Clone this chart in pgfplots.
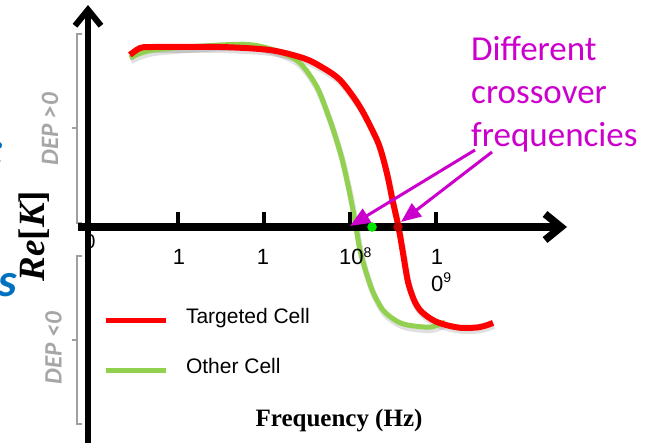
\documentclass[border=0pt]{standalone}
\usepackage{pgfplots}
\pgfplotsset{compat=1.18}
\usepackage{pgfplotstable}
\usetikzlibrary{arrows.meta}
\usepackage{fontspec}
\setmainfont{Liberation Sans}
\newfontfamily\serifb{Liberation Serif}
\newfontfamily\calib{Carlito}
\definecolor{cred}{RGB}{255,0,0}
\definecolor{cgreen}{RGB}{146,208,80}
\definecolor{cmag}{RGB}{204,0,204}
\definecolor{cgray}{RGB}{160,160,160}
\definecolor{cdep}{RGB}{166,166,166}
\definecolor{cblue}{RGB}{0,112,192}
\definecolor{dotred}{RGB}{192,0,0}
\definecolor{dotgreen}{RGB}{0,230,0}
\pgfmathdeclarefunction{PX}{1}{\pgfmathparse{7.5+(#1-306.75)/85.9}}
\pgfmathdeclarefunction{PY}{1}{\pgfmathparse{(227-#1)/180}}

% x = log10(frequency / Hz), y = Re[K]
\pgfplotstableread{
x y
5.442 0.939
5.710 0.983
6.490 1.011
6.874 1.011
7.189 0.972
7.421 0.911
7.619 0.778
7.770 0.594
7.864 0.456
7.922 0.356
7.992 0.206
8.038 0.094
8.073 0.000
8.120 -0.128
8.190 -0.250
8.271 -0.361
8.387 -0.461
8.527 -0.517
8.667 -0.544
8.935 -0.556
9.110 -0.528
}\greendata
\pgfplotstableread{
x y
5.442 0.956
5.559 0.994
5.710 1.000
6.490 1.000
7.072 0.983
7.456 0.939
7.654 0.894
7.887 0.817
8.120 0.667
8.318 0.483
8.388 0.383
8.446 0.272
8.498 0.150
8.568 0.000
8.620 -0.144
8.679 -0.306
8.749 -0.406
8.818 -0.461
8.912 -0.500
9.016 -0.528
9.168 -0.550
9.319 -0.561
9.517 -0.556
9.669 -0.533
}\reddata

\begin{document}
\begin{tikzpicture}
\path[use as bounding box, clip] (0,0) rectangle (656bp,443bp);
\begin{axis}[
  at={(0,0)}, anchor=south west,
  scale only axis, width=656bp, height=443bp,
  xmin=3.92899, xmax=11.56577, ymin=-1.2, ymax=1.261111,
  hide axis, clip=false,
  reverse legend,
  legend cell align=left,
  legend image code/.code={\draw[#1, line width=5bp] (0bp,-2bp) -- (60bp,-2bp);},
  legend style={at={(rel axis cs:0.15701,0.3047)}, anchor=north west,
    draw=none, fill=none, inner sep=0pt, outer sep=0pt,
    font=\fontsize{21bp}{25bp}\selectfont, row sep=30bp,
    nodes={inner sep=0pt, text height=15bp, text depth=5bp},
    /tikz/every odd column/.append style={column sep=18bp}},
]
% shadows
\addplot[forget plot, draw=black, opacity=0.12, line width=6bp, smooth, xshift=1bp, yshift=-3bp] table {\greendata};
\addplot[forget plot, draw=black, opacity=0.12, line width=6bp, smooth, xshift=1bp, yshift=-3bp] table {\reddata};
% curves
\addplot[cgreen, line width=5bp, smooth] table {\greendata};
\addlegendentry{Other Cell}
\addplot[cred, line width=6bp, smooth] table {\reddata};
\addlegendentry{Targeted Cell}

% braces
\draw[cgray, line width=2bp] (axis cs:{PX(82)},{PY(34)}) -- (axis cs:{PX(77)},{PY(34)}) -- (axis cs:{PX(77)},{PY(223)}) -- (axis cs:{PX(82)},{PY(223)});
\draw[cgray, line width=2bp] (axis cs:{PX(77)},{PY(128)}) -- (axis cs:{PX(72)},{PY(128)});
\draw[cgray, line width=2bp] (axis cs:{PX(82)},{PY(256)}) -- (axis cs:{PX(77)},{PY(256)}) -- (axis cs:{PX(77)},{PY(424)}) -- (axis cs:{PX(82)},{PY(424)});
\draw[cgray, line width=2bp] (axis cs:{PX(77)},{PY(340)}) -- (axis cs:{PX(72)},{PY(340)});

% origin label (partly hidden by axis)
\node[anchor=base, inner sep=0pt, font=\fontsize{20bp}{20bp}\selectfont] at (axis cs:{PX(90)},{PY(249)}) {0};

% axes
\draw[line width=6bp, -{Straight Barb[length=16bp,width=26bp]}] (axis cs:{PX(88)},{PY(460)}) -- (axis cs:{PX(88)},{PY(5)});
\draw[line width=7.5bp, -{Straight Barb[length=16bp,width=26bp]}] (axis cs:{PX(78)},0) -- (axis cs:{PX(567)},0);
% ticks
\draw[line width=4bp] (axis cs:6,0) -- (axis cs:6,{PY(212)});
\draw[line width=4bp] (axis cs:7,0) -- (axis cs:7,{PY(212)});
\draw[line width=4bp] (axis cs:8,0) -- (axis cs:8,{PY(212)});
\draw[line width=4bp] (axis cs:9,0) -- (axis cs:9,{PY(212)});
% tick labels
\node[anchor=base, inner sep=0pt, font=\fontsize{22bp}{22bp}\selectfont] at (axis cs:{PX(179)},{PY(265)}) {1};
\node[anchor=base, inner sep=0pt, font=\fontsize{22bp}{22bp}\selectfont] at (axis cs:{PX(263)},{PY(265)}) {1};
\node[anchor=base west, inner sep=0pt, font=\fontsize{22bp}{22bp}\selectfont] at (axis cs:{PX(339)},{PY(265)}) {10\raisebox{7bp}{\fontsize{14bp}{14bp}\selectfont 8}};
\node[anchor=base, inner sep=0pt, font=\fontsize{22bp}{22bp}\selectfont] at (axis cs:{PX(437)},{PY(265)}) {1};
\node[anchor=base west, inner sep=0pt, font=\fontsize{22bp}{22bp}\selectfont] at (axis cs:{PX(431)},{PY(292)}) {0\raisebox{9bp}{\fontsize{14bp}{14bp}\selectfont 9}};

% crossover dots
\addplot[forget plot, only marks, mark=*, mark size=4.5bp, dotgreen] coordinates {(8.260,0)};
\addplot[forget plot, only marks, mark=*, mark size=4.5bp, dotred] coordinates {(8.562,0)};

% annotation
\draw[cmag, line width=3bp, -{Triangle[length=20bp,width=16bp]}] (axis cs:{PX(475)},{PY(150)}) -- (axis cs:{PX(350)},{PY(226)});
\draw[cmag, line width=3bp, -{Triangle[length=20bp,width=16bp]}] (axis cs:{PX(492)},{PY(152)}) -- (axis cs:{PX(401)},{PY(222)});
\node[anchor=base west, inner sep=0pt, text=cmag, font=\calib\fontsize{35bp}{35bp}\selectfont] at (axis cs:{PX(471)},{PY(60)}) {Different};
\node[anchor=base west, inner sep=0pt, text=cmag, font=\calib\fontsize{35bp}{35bp}\selectfont] at (axis cs:{PX(471)},{PY(103.5)}) {crossover};
\node[anchor=base west, inner sep=0pt, text=cmag, font=\calib\fontsize{35bp}{35bp}\selectfont] at (axis cs:{PX(471)},{PY(147)}) {frequencies};

% axis titles
\node[anchor=base, inner sep=0pt, font=\serifb\bfseries\fontsize{25bp}{25bp}\selectfont] at (axis cs:{PX(339)},{PY(426)}) {Frequency (Hz)};
\node[rotate=90, inner sep=0pt, font=\serifb\bfseries\fontsize{37bp}{37bp}\selectfont] at (axis cs:{PX(34)},{PY(236)}) {\itshape Re\upshape[\itshape K\upshape]};
\node[rotate=90, inner sep=0pt, text=cdep, font=\calib\bfseries\itshape\fontsize{25bp}{25bp}\selectfont] at (axis cs:{PX(50)},{PY(129)}) {DEP >0};
\node[rotate=90, inner sep=0pt, text=cdep, font=\calib\bfseries\itshape\fontsize{25bp}{25bp}\selectfont] at (axis cs:{PX(53.5)},{PY(348)}) {DEP <0};
% cut-off blue text at the left edge (as in the reference)
\node[anchor=base east, inner sep=0pt, text=cblue, font=\calib\bfseries\itshape\fontsize{47bp}{47bp}\selectfont] at (axis cs:{PX(17)},{PY(297)}) {s};
\node[anchor=base east, inner sep=0pt, text=cblue, font=\calib\bfseries\itshape\fontsize{47bp}{47bp}\selectfont] at (axis cs:{PX(5)},{PY(165)}) {:};
\end{axis}
\end{tikzpicture}
\end{document}
